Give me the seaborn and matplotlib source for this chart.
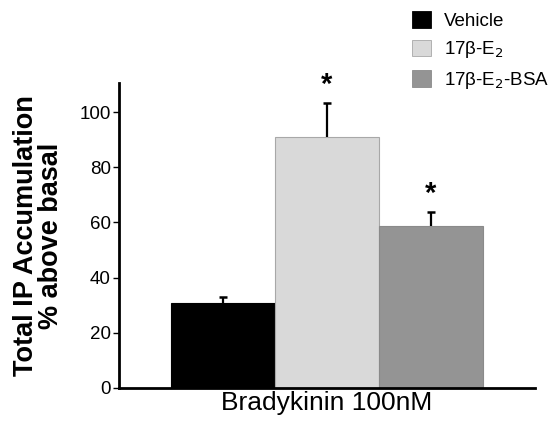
import matplotlib
matplotlib.use("Agg")
import matplotlib.pyplot as plt
import seaborn as sns
import pandas as pd
import numpy as np
from matplotlib.patches import Patch

treatments = ["Vehicle", "17β-E$_2$", "17β-E$_2$-BSA"]
values = [30.8, 90.9, 58.7]
errors = [2.2, 12.4, 5.1]
significant = [False, True, True]
colors = ["#000000", "#d9d9d9", "#949494"]
edgecolors = ["#000000", "#a8a8a8", "#8a8a8a"]
yticks = [0, 20, 40, 60, 80, 100]

sns.set_theme(style="white")
plt.rcParams['font.family'] = ['Liberation Sans', 'DejaVu Sans']
plt.rcParams.update({"text.color": "black", "axes.labelcolor": "black",
                     "xtick.color": "black", "ytick.color": "black"})

df = pd.DataFrame({"treatment": treatments, "value": values})

fig = plt.figure(figsize=(5.6, 4.22), dpi=100)
ax = fig.add_axes([0.2125, 0.0806, 0.7425, 0.7225])

sns.barplot(data=df, x="treatment", y="value", hue="treatment",
            order=treatments, hue_order=treatments, palette=colors,
            width=1.0, dodge=False, legend=False, ax=ax, saturation=1)
for p, ec in zip(ax.patches, edgecolors):
    p.set_edgecolor(ec)
    p.set_linewidth(0.8)

x = np.arange(len(values))
vals = np.array(values)
errs = np.array(errors)
ax.vlines(x, vals, vals + errs, colors="black", linewidth=1.6, zorder=3)
ax.scatter(x, vals + errs, marker="_", s=40, color="black", linewidths=1.8, zorder=3)
for xi, v, e, s in zip(x, vals, errs, significant):
    if s:
        ax.text(xi, v + e + 1.5, "*", ha="center", va="bottom", fontsize=21,
                fontweight="bold")

ax.set_xlim(-1.0, 3.0)
ax.set_ylim(0, 110.5)
ax.set_yticks(yticks)
ax.set_yticklabels([str(t) for t in yticks], fontsize=13.5)
ax.set_xticks([])
ax.set_xlabel("Bradykinin 100nM", fontsize=19, labelpad=2)
ax.set_ylabel("Total IP Accumulation\n% above basal", fontsize=19.5,
              fontweight="bold", linespacing=0.95, labelpad=11)
for side in ["top", "right"]:
    ax.spines[side].set_visible(False)
for side in ["left", "bottom"]:
    ax.spines[side].set_linewidth(2)
    ax.spines[side].set_color("black")
ax.tick_params(axis="y", direction="out", length=4, width=1, color="black", pad=2, left=True)

handles = [Patch(facecolor=c, edgecolor=ec, linewidth=0.6) for c, ec in zip(colors, edgecolors)]
fig.legend(handles, treatments, loc="upper left", bbox_to_anchor=(0.716, 1.0),
           frameon=False, fontsize=13.5, handlelength=1.0, handleheight=1.0,
           labelspacing=0.5, handletextpad=0.7, borderaxespad=0.2)

fig.savefig("out.png", dpi=100)
